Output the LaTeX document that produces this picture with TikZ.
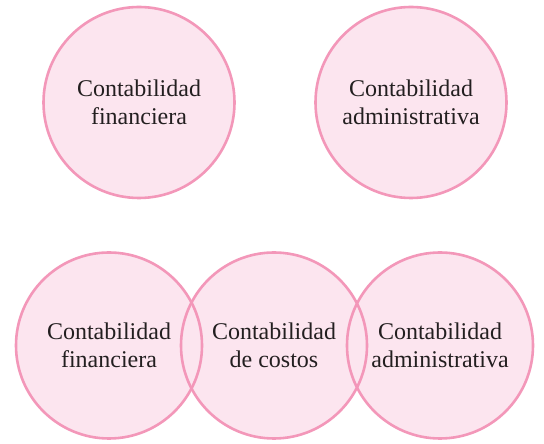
\documentclass[tikz,border=0pt]{standalone}
\usepackage{fontspec}
\setmainfont{Liberation Serif}
\definecolor{ringpink}{HTML}{F397B9}
\definecolor{fillpink}{HTML}{FCE5EF}
\definecolor{txt}{HTML}{231F20}
\begin{document}
\begin{tikzpicture}[x=1pt,y=1pt,
  ring/.style={circle,draw=ringpink,line width=2.6pt,inner sep=0pt,
    text=txt,align=center,font=\fontsize{24}{28.5}\selectfont},
  bigring/.style={ring,minimum size=191pt},
  smallring/.style={ring,minimum size=186pt},
  disc/.style={fill=fillpink}]
\useasboundingbox (0,0) rectangle (544,444);
% positions
\coordinate (p1) at (139,341.5);
\coordinate (p2) at (411,341.5);
\coordinate (p3) at (109,98.5);
\coordinate (p4) at (274,98.5);
\coordinate (p5) at (440,98.5);
% fills
\foreach \p in {p1,p2} \fill[disc] (\p) circle[radius=95.5];
\foreach \p in {p3,p4,p5} \fill[disc] (\p) circle[radius=93];
% outlined circles with text
\node[bigring] (cf) at (p1) {Contabilidad\\financiera};
\node[bigring] (ca) at (p2) {Contabilidad\\administrativa};
\node[smallring] (bf) at (p3) {Contabilidad\\financiera};
\node[smallring] (bc) at (p4) {Contabilidad\\de costos};
\node[smallring] (ba) at (p5) {Contabilidad\\administrativa};
\end{tikzpicture}
\end{document}
